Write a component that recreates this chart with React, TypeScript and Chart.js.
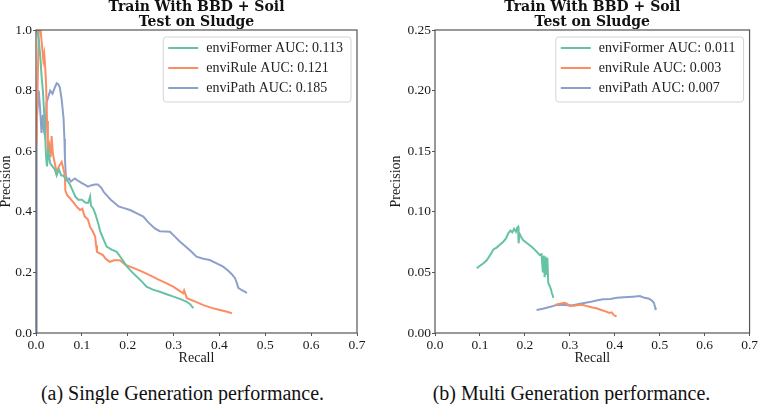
import { useEffect, useRef } from "react";
import { Chart, registerables } from "chart.js";

Chart.register(...registerables);

// (a) single generation, recall / precision per model
const singleFormerRecall = [0.002, 0.006, 0.010, 0.012, 0.015, 0.018, 0.020, 0.022, 0.024, 0.027, 0.031, 0.036, 0.041, 0.045, 0.050, 0.055, 0.059, 0.064, 0.070, 0.074, 0.080, 0.086, 0.092, 0.100, 0.108, 0.114, 0.118, 0.120, 0.125, 0.130, 0.136, 0.140, 0.147, 0.154, 0.165, 0.176, 0.187, 0.198, 0.210, 0.220, 0.232, 0.241, 0.255, 0.270, 0.285, 0.300, 0.315, 0.329, 0.336, 0.343];
const singleFormerPrecision = [1.0, 0.97, 0.90, 0.85, 0.80, 0.72, 0.65, 0.58, 0.55, 0.60, 0.56, 0.55, 0.54, 0.52, 0.54, 0.52, 0.52, 0.51, 0.50, 0.49, 0.47, 0.45, 0.44, 0.44, 0.43, 0.43, 0.45, 0.42, 0.41, 0.39, 0.36, 0.335, 0.31, 0.285, 0.275, 0.268, 0.245, 0.22, 0.20, 0.186, 0.168, 0.153, 0.143, 0.136, 0.128, 0.12, 0.112, 0.103, 0.095, 0.082];

const singleRuleRecall = [0.001, 0.004, 0.006, 0.010, 0.013, 0.016, 0.018, 0.020, 0.022, 0.024, 0.026, 0.029, 0.032, 0.034, 0.037, 0.041, 0.045, 0.050, 0.056, 0.060, 0.063, 0.064, 0.068, 0.074, 0.082, 0.090, 0.096, 0.101, 0.106, 0.113, 0.118, 0.124, 0.129, 0.131, 0.133, 0.140, 0.146, 0.152, 0.161, 0.170, 0.183, 0.195, 0.205, 0.220, 0.235, 0.249, 0.265, 0.285, 0.300, 0.312, 0.321, 0.323, 0.329, 0.345, 0.365, 0.383, 0.401, 0.415, 0.427];
const singleRulePrecision = [0.62, 0.85, 1.0, 1.0, 0.95, 0.90, 0.92, 0.88, 0.82, 0.70, 0.60, 0.62, 0.58, 0.65, 0.59, 0.56, 0.53, 0.55, 0.565, 0.54, 0.52, 0.47, 0.455, 0.445, 0.43, 0.415, 0.406, 0.41, 0.385, 0.375, 0.35, 0.335, 0.318, 0.29, 0.268, 0.262, 0.257, 0.245, 0.235, 0.24, 0.24, 0.225, 0.219, 0.21, 0.20, 0.19, 0.178, 0.164, 0.152, 0.14, 0.131, 0.14, 0.115, 0.105, 0.092, 0.083, 0.076, 0.071, 0.065];

const singlePathRecall = [0.0, 0.001, 0.002, 0.004, 0.006, 0.009, 0.012, 0.015, 0.018, 0.020, 0.023, 0.027, 0.031, 0.036, 0.041, 0.045, 0.049, 0.052, 0.056, 0.060, 0.062, 0.063, 0.065, 0.068, 0.072, 0.076, 0.080, 0.085, 0.089, 0.094, 0.100, 0.106, 0.113, 0.120, 0.128, 0.135, 0.142, 0.148, 0.154, 0.163, 0.172, 0.180, 0.190, 0.205, 0.220, 0.234, 0.245, 0.259, 0.270, 0.282, 0.292, 0.303, 0.314, 0.325, 0.338, 0.350, 0.365, 0.379, 0.394, 0.408, 0.418, 0.427, 0.434, 0.438, 0.441, 0.448, 0.456, 0.460];
const singlePathPrecision = [0.0, 0.4, 0.70, 0.76, 0.80, 0.74, 0.66, 0.72, 0.66, 0.65, 0.76, 0.78, 0.80, 0.79, 0.81, 0.824, 0.82, 0.81, 0.77, 0.71, 0.64, 0.58, 0.52, 0.505, 0.51, 0.50, 0.505, 0.51, 0.505, 0.50, 0.495, 0.49, 0.483, 0.487, 0.49, 0.49, 0.48, 0.465, 0.455, 0.44, 0.428, 0.418, 0.413, 0.406, 0.395, 0.384, 0.365, 0.345, 0.336, 0.335, 0.334, 0.318, 0.301, 0.287, 0.27, 0.252, 0.245, 0.241, 0.23, 0.219, 0.207, 0.194, 0.181, 0.165, 0.149, 0.142, 0.136, 0.132];

// (b) multi generation
const multiFormerRecall = [0.093, 0.100, 0.108, 0.115, 0.124, 0.130, 0.137, 0.145, 0.152, 0.158, 0.163, 0.168, 0.172, 0.176, 0.180, 0.183, 0.185, 0.186, 0.188, 0.192, 0.196, 0.205, 0.215, 0.224, 0.233, 0.237, 0.240, 0.242, 0.244, 0.246, 0.248, 0.250, 0.252, 0.255, 0.258, 0.260, 0.262, 0.263];
const multiFormerPrecision = [0.0534, 0.0555, 0.0575, 0.060, 0.065, 0.069, 0.0705, 0.073, 0.0753, 0.078, 0.0822, 0.0845, 0.083, 0.086, 0.0835, 0.087, 0.0877, 0.074, 0.082, 0.079, 0.0767, 0.074, 0.0712, 0.068, 0.0644, 0.065, 0.050, 0.064, 0.046, 0.063, 0.048, 0.062, 0.041, 0.039, 0.036, 0.033, 0.031, 0.029];

const multiRuleRecall = [0.267, 0.275, 0.283, 0.289, 0.294, 0.300, 0.310, 0.320, 0.330, 0.340, 0.350, 0.359, 0.370, 0.381, 0.388, 0.393, 0.398, 0.404];
const multiRulePrecision = [0.0231, 0.024, 0.0245, 0.025, 0.024, 0.0223, 0.0225, 0.023, 0.0231, 0.022, 0.021, 0.0204, 0.019, 0.0176, 0.0165, 0.017, 0.0148, 0.0135];

const multiPathRecall = [0.226, 0.240, 0.255, 0.270, 0.285, 0.300, 0.307, 0.320, 0.335, 0.350, 0.362, 0.374, 0.390, 0.405, 0.420, 0.440, 0.456, 0.466, 0.475, 0.482, 0.487, 0.490, 0.491];
const multiPathPrecision = [0.019, 0.020, 0.0215, 0.023, 0.0232, 0.0228, 0.023, 0.024, 0.025, 0.026, 0.027, 0.0278, 0.028, 0.029, 0.0295, 0.030, 0.0305, 0.029, 0.0285, 0.027, 0.025, 0.021, 0.019];

const singleLabels = ["enviFormer AUC: 0.113", "enviRule AUC: 0.121", "enviPath AUC: 0.185"];
const multiLabels = ["enviFormer AUC: 0.011", "enviRule AUC: 0.003", "enviPath AUC: 0.007"];
const panelTitle = ["Train With BBD + Soil", "Test on Sludge"];

const colors = ["#66c2a5", "#fc8d62", "#8da0cb"];
const FONT = "'Liberation Serif', serif";

const toPoints = (xs: number[], ys: number[]) => xs.map((x, i) => ({ x, y: ys[i] }));

// frame + legend drawn inside the axes, matplotlib style
const insideLegend = {
  id: "insideLegend",
  afterDraw(chart: any) {
    const { ctx, chartArea } = chart;
    ctx.save();
    ctx.strokeStyle = "#555";
    ctx.lineWidth = 1.2;
    ctx.strokeRect(chartArea.left, chartArea.top, chartArea.width, chartArea.height);

    ctx.font = `14px ${FONT}`;
    const labels: string[] = chart.data.datasets.map((d: any) => d.label);
    const textW = Math.max(...labels.map((l) => ctx.measureText(l).width));
    const w = 43 + textW + 8;
    const h = 65;
    const x = chartArea.right - 6 - w;
    const y = chartArea.top + 7;
    ctx.beginPath();
    ctx.roundRect(x, y, w, h, 3);
    ctx.fillStyle = "rgba(255,255,255,0.85)";
    ctx.fill();
    ctx.strokeStyle = "#d4d4d4";
    ctx.lineWidth = 1;
    ctx.stroke();
    chart.data.datasets.forEach((d: any, i: number) => {
      const cy = y + 11 + i * 20;
      ctx.strokeStyle = d.borderColor;
      ctx.lineWidth = 2;
      ctx.beginPath();
      ctx.moveTo(x + 5, cy);
      ctx.lineTo(x + 35, cy);
      ctx.stroke();
      ctx.fillStyle = "#222";
      ctx.textBaseline = "middle";
      ctx.textAlign = "left";
      ctx.fillText(d.label, x + 43, cy);
    });
    ctx.restore();
  },
};

interface PanelProps {
  series: { x: number; y: number }[][];
  labels: string[];
  yMax: number;
  yStep: number;
  yDigits: number;
  axisWidth: number;
  yTitlePad: number;
  width: number;
  padRight: number;
}

function PRPanel({ series, labels, yMax, yStep, yDigits, axisWidth, yTitlePad, width, padRight }: PanelProps) {
  const canvasRef = useRef<HTMLCanvasElement>(null);
  const chartRef = useRef<Chart | null>(null);

  useEffect(() => {
    if (!canvasRef.current) return;
    if (chartRef.current) chartRef.current.destroy();

    chartRef.current = new Chart(canvasRef.current, {
      type: "line",
      data: {
        datasets: series.map((pts, i) => ({
          label: labels[i],
          data: pts,
          borderColor: colors[i],
          backgroundColor: colors[i],
          borderWidth: 2,
          pointRadius: 0,
          tension: 0,
          fill: false,
        })),
      },
      options: {
        responsive: false,
        animation: false,
        layout: { padding: { left: 0, right: padRight, top: 0, bottom: 0 } },
        plugins: {
          legend: { display: false },
          tooltip: { enabled: false },
          title: {
            display: true,
            text: panelTitle,
            fullSize: false,
            color: "#111",
            font: { family: "'DejaVu Serif', serif", size: 14, weight: "bold", lineHeight: 15 / 14 },
            padding: { top: 0, bottom: 0 },
          },
        },
        scales: {
          x: {
            type: "linear",
            min: 0,
            max: 0.7,
            border: { display: false },
            grid: { drawOnChartArea: false, drawTicks: true, tickLength: 3, tickColor: "#555" },
            ticks: { stepSize: 0.1, padding: 1, color: "#1a1a1a", font: { family: FONT, size: 13.5 }, callback: (v: any) => Number(v).toFixed(1) },
            title: { display: true, text: "Recall", color: "#1a1a1a", font: { family: FONT, size: 14, lineHeight: 1.2 }, padding: { top: 0, bottom: 3.6 } },
            afterFit: (scale: any) => { scale.height = 37; },
          },
          y: {
            type: "linear",
            min: 0,
            max: yMax,
            border: { display: false },
            grid: { drawOnChartArea: false, drawTicks: true, tickLength: 3, tickColor: "#555" },
            ticks: { stepSize: yStep, padding: 1, color: "#1a1a1a", font: { family: FONT, size: 13.5 }, callback: (v: any) => Number(v).toFixed(yDigits) },
            title: { display: true, text: "Precision", color: "#1a1a1a", font: { family: FONT, size: 14, lineHeight: 1.2 }, padding: { top: yTitlePad, bottom: 0 } },
            afterFit: (scale: any) => { scale.width = axisWidth; },
          },
        },
      },
      plugins: [insideLegend],
    });

    return () => {
      if (chartRef.current) {
        chartRef.current.destroy();
        chartRef.current = null;
      }
    };
  }, [series, labels, yMax, yStep, yDigits, axisWidth, yTitlePad, padRight]);

  return <canvas ref={canvasRef} width={width} height={370} style={{ display: "block" }} />;
}

const singleSeries = [
  toPoints(singleFormerRecall, singleFormerPrecision),
  toPoints(singleRuleRecall, singleRulePrecision),
  toPoints(singlePathRecall, singlePathPrecision),
];
const multiSeries = [
  toPoints(multiFormerRecall, multiFormerPrecision),
  toPoints(multiRuleRecall, multiRulePrecision),
  toPoints(multiPathRecall, multiPathPrecision),
];

export default function App() {
  const caption: React.CSSProperties = {
    position: "absolute",
    top: 381,
    textAlign: "center",
    fontSize: 20,
    lineHeight: "24px",
    color: "#111",
    fontFamily: FONT,
    whiteSpace: "nowrap",
  };
  return (
    <div style={{ position: "absolute", left: 0, top: 0, width: 759, height: 404, overflow: "hidden", background: "#fff" }}>
      <div style={{ position: "absolute", left: 0, top: 0 }}>
        <PRPanel series={singleSeries} labels={singleLabels} yMax={1} yStep={0.2} yDigits={1} axisWidth={36} yTitlePad={-2.4} width={380} padRight={23} />
      </div>
      <div style={{ position: "absolute", left: 380, top: 0 }}>
        <PRPanel series={multiSeries} labels={multiLabels} yMax={0.25} yStep={0.05} yDigits={2} axisWidth={55} yTitlePad={8} width={379} padRight={9} />
      </div>
      <div style={{ ...caption, left: 0, width: 365 }}>(a) Single Generation performance.</div>
      <div style={{ ...caption, left: 420, width: 303 }}>(b) Multi Generation performance.</div>
    </div>
  );
}
